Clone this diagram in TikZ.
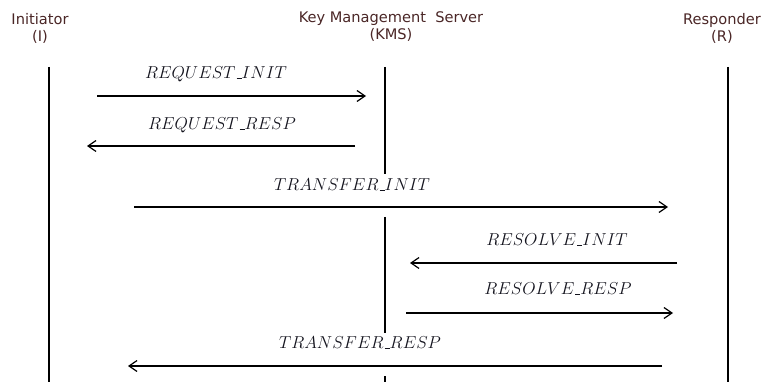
\documentclass[tikz,border=0pt]{standalone}
\usepackage{fontspec}
\newfontfamily\hdrfont{DejaVu Sans}
\usetikzlibrary{arrows.meta}
\definecolor{hdrcol}{HTML}{4A2626}
\definecolor{lblcol}{HTML}{14141E}
\newcommand\lowbar{\kern.06em\vbox{\hrule height .7pt width .3em}}
\begin{document}
\begin{tikzpicture}[x=1pt,y=-1pt,
  hdr/.style={font=\hdrfont\fontsize{14.6}{16.5}\selectfont,text=hdrcol,inner sep=0pt,align=center},
  lbl/.style={font=\fontsize{17}{19}\selectfont,text=lblcol,inner sep=0pt},
  life/.style={line width=2.6pt,black},
  msg/.style={line width=1.2pt,black,-{Straight Barb[length=8pt,width=11pt,line width=1.2pt]}}]
\useasboundingbox (0,0) rectangle (763,382);
% headers
\node[hdr] (hI) at (40,28.5) {Initiator\\(I)};
\node[hdr] (hK) at (391,26.5) {Key Management\ \ Server\\(KMS)};
\node[hdr] (hR) at (722,28.5) {Responder\\(R)};
% lifelines
\coordinate (I0) at (49,67);  \coordinate (I1) at (49,382);
\coordinate (K0) at (385,67); \coordinate (K1) at (385,174);
\coordinate (K2) at (385,217); \coordinate (K3) at (385,333);
\coordinate (K4) at (385,376); \coordinate (K5) at (385,382);
\coordinate (R0) at (728,67); \coordinate (R1) at (728,382);
\draw[life] (I0) -- (I1);
\draw[life] (K0) -- (K1);
\draw[life] (K2) -- (K3);
\draw[life] (K4) -- (K5);
\draw[life] (R0) -- (R1);
% message endpoints
\coordinate (a1) at (97,96);  \coordinate (b1) at (366,96);
\coordinate (a2) at (355,146); \coordinate (b2) at (87,146);
\coordinate (a3) at (134,207); \coordinate (b3) at (668,207);
\coordinate (a4) at (677,263); \coordinate (b4) at (410,263);
\coordinate (a5) at (406,313); \coordinate (b5) at (673,313);
\coordinate (a6) at (662,366); \coordinate (b6) at (128,366);
\draw[msg] (a1) -- (b1);
\draw[msg] (a2) -- (b2);
\draw[msg] (a3) -- (b3);
\draw[msg] (a4) -- (b4);
\draw[msg] (a5) -- (b5);
\draw[msg] (a6) -- (b6);
% labels
\node[lbl] (l1) at (216,74) {$REQUEST\lowbar INIT$};
\node[lbl] (l2) at (222,125) {$REQUEST\lowbar RESP$};
\node[lbl] (l3) at (352,185) {$TRANSFER\lowbar INIT$};
\node[lbl] (l4) at (557,240) {$RESOLVE\lowbar INIT$};
\node[lbl] (l5) at (558,289) {$RESOLVE\lowbar RESP$};
\node[lbl] (l6) at (360,343) {$TRANSFER\lowbar RESP$};
\end{tikzpicture}
\end{document}
